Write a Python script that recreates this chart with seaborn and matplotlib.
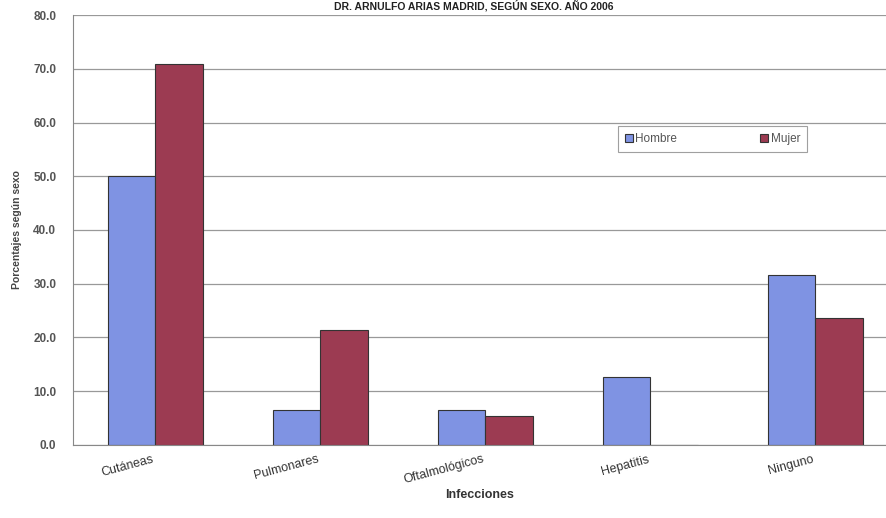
import matplotlib
matplotlib.use("Agg")
import matplotlib.pyplot as plt
import seaborn as sns
import pandas as pd

categories = ["Cutáneas", "Pulmonares", "Oftalmológicos", "Hepatitis", "Ninguno"]
hombre = [50.0, 6.5, 6.5, 12.7, 31.7]
mujer = [70.8, 21.4, 5.3, 0.0, 23.6]
series = ["Hombre", "Mujer"]
yticks = [0, 10, 20, 30, 40, 50, 60, 70, 80]
title = "DR. ARNULFO ARIAS MADRID, SEGÚN SEXO. AÑO 2006"

df = pd.DataFrame({
    "Infecciones": categories * 2,
    "valor": hombre + mujer,
    "Sexo": [series[0]] * len(categories) + [series[1]] * len(categories),
})

sns.set_style("white")
plt.rcParams['font.family'] = ['Liberation Sans', 'DejaVu Sans']

fig = plt.figure(figsize=(8.86, 5.18), dpi=100)
ax = fig.add_axes([0.0824, 0.141, 0.9176, 0.830])

palette = {"Hombre": "#7f93e3", "Mujer": "#9c3b52"}
sns.barplot(data=df, x="Infecciones", y="valor", hue="Sexo", palette=palette,
            width=0.575, dodge=True, ax=ax, edgecolor="#333333", linewidth=0.8,
            saturation=1)

ax.set_ylim(0, 80)
ax.set_xlim(-0.5, 4.43)
ax.set_yticks(yticks)
ax.set_yticklabels([f"{v:.1f}" for v in yticks], fontsize=8.5, fontweight="bold", color="#555555")
ax.yaxis.grid(True, color="#999999", linewidth=0.9)
ax.set_axisbelow(True)
for s in ["top", "right"]:
    ax.spines[s].set_visible(False)
ax.spines["left"].set_color("#888888")
ax.spines["bottom"].set_color("#888888")
ax.tick_params(axis="y", length=0, pad=12)
ax.tick_params(axis="x", length=0, pad=6)
ax.set_xticks(range(len(categories)))
ax.set_xticklabels(categories, rotation=15, fontsize=9, color="#333333")
for lbl in ax.get_xticklabels():
    lbl.set_horizontalalignment("right")
ax.set_xlabel("Infecciones", fontsize=9, fontweight="bold", color="#333333", labelpad=2)
ax.set_ylabel("Porcentajes según sexo", fontsize=7.5, fontweight="bold", color="#444444", labelpad=8)

leg = ax.legend(loc="lower left", bbox_to_anchor=(0.670, 0.681, 0.233, 0.07), mode="expand",
                ncol=2, fontsize=8.5, frameon=True, fancybox=False, handlelength=0.7,
                handleheight=0.7, handletextpad=0.2, borderaxespad=0, columnspacing=3,
                borderpad=0.6)
leg.get_frame().set_edgecolor("#888888")
leg.get_frame().set_linewidth(0.8)
for t in leg.get_texts():
    t.set_color("#555555")

fig.text(0.535, 0.988, title, ha="center", va="center", fontsize=7.5, fontweight="bold", color="#222222")

fig.savefig("out.png", dpi=100)
